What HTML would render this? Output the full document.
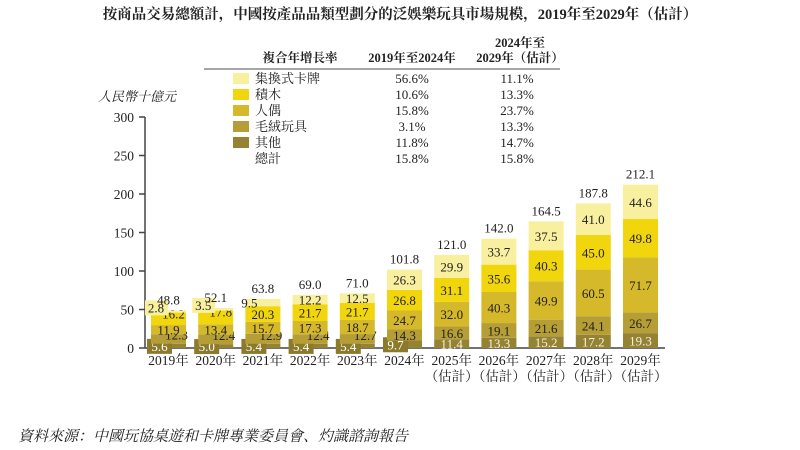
<!DOCTYPE html>
<html><head><meta charset="utf-8"><style>
body{margin:0;background:#fff;}
svg{display:block;font-family:"Liberation Serif","Noto Serif CJK SC","Noto Sans CJK TC",serif;}
</style></head><body>
<svg id="chart" width="800" height="450" viewBox="0 0 800 450">
<text x="400" y="19" text-anchor="middle" font-size="14.5" font-weight="bold" fill="#222">按商品交易總額計，中國按產品品類型劃分的泛娛樂玩具市場規模，2019年至2029年（估計）</text>
<text x="98" y="101" font-size="13" font-style="italic" fill="#222">人民幣十億元</text>
<g id="legend">
<text x="300" y="62" text-anchor="middle" font-size="12.5" font-weight="bold" fill="#222">複合年增長率</text>
<text x="412" y="62" text-anchor="middle" font-size="12.5" font-weight="bold" fill="#222">2019年至2024年</text>
<text x="520" y="47" text-anchor="middle" font-size="12.5" font-weight="bold" fill="#222">2024年至</text>
<text x="520" y="62" text-anchor="middle" font-size="12.5" font-weight="bold" fill="#222">2029年（估計）</text>
<line x1="204" y1="69" x2="560" y2="69" stroke="#888" stroke-width="1.5"/>
</g>
<line x1="145" y1="117" x2="145" y2="348" stroke="#444" stroke-width="1.5"/>
<line x1="145" y1="348" x2="665" y2="348" stroke="#444" stroke-width="1.5"/>
<g id="yticks"></g><g id="bars"></g><g id="xlabels"></g>
<text x="18" y="441" font-size="15" font-style="italic" fill="#222">資料來源：中國玩協桌遊和卡牌專業委員會、灼識諮詢報告</text>
</svg>
<script>
const years=["2019年","2020年","2021年","2022年","2023年","2024年","2025年","2026年","2027年","2028年","2029年"];
const estimated=[false,false,false,false,false,false,true,true,true,true,true];
const seriesNames=["其他","毛絨玩具","人偶","積木","集換式卡牌"];
const other=[5.6,5.0,5.4,5.4,5.4,9.7,11.4,13.3,15.2,17.2,19.3];
const plush=[12.3,12.4,12.9,12.4,12.7,14.3,16.6,19.1,21.6,24.1,26.7];
const doll=[11.9,13.4,15.7,17.3,18.7,24.7,32.0,40.3,49.9,60.5,71.7];
const blocks=[16.2,17.8,20.3,21.7,21.7,26.8,31.1,35.6,40.3,45.0,49.8];
const cards=[2.8,3.5,9.5,12.2,12.5,26.3,29.9,33.7,37.5,41.0,44.6];
const totals=[48.8,52.1,63.8,69.0,71.0,101.8,121.0,142.0,164.5,187.8,212.1];
const cagr1=["11.8%","3.1%","15.8%","10.6%","56.6%"];
const cagr2=["14.7%","13.3%","23.7%","13.3%","11.1%"];
const totalCagr=["15.8%","15.8%"];
const yTicks=[0,50,100,150,200,250,300];
const colors=["#958333","#b59e35","#d5b92b","#f1d60d","#f9f09f"];
const NS="http://www.w3.org/2000/svg";
const y=v=>348-v*0.77;
const x=i=>151+i*47.2;
const BW=35;
const FS=13;
function mk(tag,attrs,parent,txt){const e=document.createElementNS(NS,tag);for(const k in attrs)e.setAttribute(k,attrs[k]);if(txt!==undefined)e.textContent=txt;parent.appendChild(e);return e;}
const yt=document.getElementById('yticks');
yTicks.forEach(t=>{
  const l=mk('line',{x1:139,x2:145,y1:y(t),y2:y(t),stroke:'#444','stroke-width':1.5},yt);
  
  
  const tx=mk('text',{x:134,y:y(t)+5,'text-anchor':'end','font-size':13.5,fill:'#222'},yt,t);
  
  
});
const series=[other,plush,doll,blocks,cards];
const bars=document.getElementById('bars');
const keys=['other','plush','doll','blocks','cards'];
years.forEach((yr,i)=>{
  let acc=0;const bx=x(i);
  series.forEach((s,k)=>{
    const v=s[i];
    const r=mk('rect',{x:bx,y:y(acc+v),width:BW,height:y(acc)-y(acc+v),fill:colors[k]},bars);
    
    
    let lx=bx+BW/2, ly=y(acc+v/2)+5, anchor='middle', fill=(k===0&&i>=5)?'#f4f0e0':'#222';
    if(i<6 && k===0){
      const b=mk('rect',{x:bx-4,y:ly-12,width:25,height:15,fill:'#8c7a2c'},bars);
      
      
      lx=bx+8.5;fill='#fff';
    }
    if(i<5 && k===1){lx=bx+BW/2+8;ly=y(acc)-4;}
    if(i<2 && k===4){
      const b=mk('rect',{x:bx-6,y:y(acc+v)-10,width:23,height:15,fill:colors[4]},bars);
      
      
      lx=bx+5;ly=y(acc+v)+2;
    }
    if(i<2 && k===3){lx=bx+BW/2+5;ly=y(acc+v)+6;}
    if(i===2 && k===4){lx=bx+4;ly=y(acc+v/2)+5;}
    const t=mk('text',{x:lx,y:ly,'text-anchor':anchor,'font-size':FS,fill:fill},bars,v.toFixed(1));
    
    
    acc+=v;
  });
  const tt=mk('text',{x:bx+BW/2,y:y(totals[i])-6,'text-anchor':'middle','font-size':FS,fill:'#222'},bars,totals[i].toFixed(1));
  
  
  const xl=mk('text',{x:bx+BW/2,y:365,'text-anchor':'middle','font-size':13.5,fill:'#222'},document.getElementById('xlabels'),yr);
  
  
  if(estimated[i]){
    const el=mk('text',{x:bx+BW/2,y:381,'text-anchor':'middle','font-size':13.5,fill:'#222'},document.getElementById('xlabels'),'（估計）');
    
    
  }
});
const lg=document.getElementById('legend');
const rowsY=[143,127,111,95,79];
seriesNames.forEach((n,k)=>{
  const ry=rowsY[k];
  const sw=mk('rect',{x:233,y:ry-6,width:16,height:11,fill:colors[k]},lg);
  
  
  const t=mk('text',{x:255,y:ry+4,'font-size':13,fill:'#222'},lg,n);
  
  
  const a=mk('text',{x:412,y:ry+4,'text-anchor':'middle','font-size':13,fill:'#222'},lg,cagr1[k]);
  
  
  const b=mk('text',{x:517,y:ry+4,'text-anchor':'middle','font-size':13,fill:'#222'},lg,cagr2[k]);
  
  
});
const tn=mk('text',{x:255,y:163,'font-size':13,fill:'#222'},lg,'總計');


const t1=mk('text',{x:412,y:163,'text-anchor':'middle','font-size':13,fill:'#222'},lg,totalCagr[0]);


const t2=mk('text',{x:517,y:163,'text-anchor':'middle','font-size':13,fill:'#222'},lg,totalCagr[1]);


</script>
</body></html>
